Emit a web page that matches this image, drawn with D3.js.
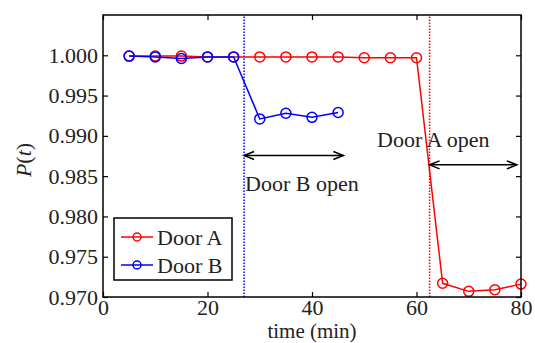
<!DOCTYPE html>
<html>
<head>
<meta charset="utf-8">
<script src="https://cdn.jsdelivr.net/npm/d3@7"></script>
<style>
  html, body { margin: 0; padding: 0; background: #fff; }
</style>
</head>
<body>
<svg id="chart" width="535" height="343"></svg>
<script>
// Probability of the system staying in state over time, for two door events
const timesA = [5, 10, 15, 20, 25, 30, 35, 40, 45, 50, 55, 60, 65, 70, 75, 80];
const doorA  = [0.9999, 0.9999, 0.9999, 0.9998, 0.9998, 0.9998, 0.9998, 0.9998,
                0.9998, 0.9997, 0.9997, 0.9997, 0.9717, 0.9707, 0.9709, 0.9716];
const timesB = [5, 10, 15, 20, 25, 30, 35, 40, 45];
const doorB  = [0.9999, 0.9998, 0.9996, 0.9998, 0.9998, 0.9921, 0.9928, 0.9923, 0.9929];

const xTicks = [0, 20, 40, 60, 80];
const yTicks = [0.970, 0.975, 0.980, 0.985, 0.990, 0.995, 1.000];

const doorBOpenAt = 27;      // door B opens
const doorAOpenAt = 62.5;    // door A opens
const arrowB = { from: 27, to: 46, level: 0.98756, label: "Door B open" };
const arrowA = { from: 62.5, to: 79.2, level: 0.9864, label: "Door A open" };

(function draw() {
  const FONT = "Liberation Serif";
  const svg = d3.select("#chart");
  const pLeft = 103, pRight = 521, pTop = 15, pBottom = 297;
  const x = d3.scaleLinear().domain([0, 80]).range([pLeft, pRight]);
  const y = d3.scaleLinear().domain([0.970, 1.005]).range([pBottom, pTop]);
  const fontSize = 22;

  function label(sel, size) {
    return sel.attr("font-family", FONT).attr("font-size", size || fontSize).attr("fill", "#222");
  }

  // Door open markers
  function vline(t, color) {
    svg.append("line")
      .attr("x1", x(t)).attr("x2", x(t))
      .attr("y1", y.range()[0]).attr("y2", y.range()[1])
      .attr("stroke", color).attr("stroke-width", 1.5)
      .attr("stroke-dasharray", "1.5,1.5");
  }
  vline(doorBOpenAt, "#0000ff");
  vline(doorAOpenAt, "#ff0000");

  // Series
  function series(xs, ys, color) {
    const pts = xs.map((t, i) => [t, ys[i]]);
    svg.append("path")
      .datum(pts)
      .attr("fill", "none").attr("stroke", color).attr("stroke-width", 1.5)
      .attr("d", d3.line().x(d => x(d[0])).y(d => y(d[1])));
    svg.append("g").selectAll("circle").data(pts).join("circle")
      .attr("cx", d => x(d[0])).attr("cy", d => y(d[1])).attr("r", 5)
      .attr("fill", "none").attr("stroke", color).attr("stroke-width", 1.5);
  }
  series(timesA, doorA, "#ff0000");
  series(timesB, doorB, "#0000ff");

  // Double-headed arrows with labels
  function arrow(a) {
    const x1 = x(a.from), x2 = x(a.to), yy = y(a.level);
    const g = svg.append("g").attr("stroke", "#000").attr("stroke-width", 1.5).attr("fill", "none");
    g.append("line").attr("x1", x1).attr("x2", x2).attr("y1", yy).attr("y2", yy);
    g.append("path").attr("d", `M${x1 + 10},${yy - 4} L${x1},${yy} L${x1 + 10},${yy + 4}`);
    g.append("path").attr("d", `M${x2 - 10},${yy - 4} L${x2},${yy} L${x2 - 10},${yy + 4}`);
  }
  arrow(arrowB);
  arrow(arrowA);
  label(svg.append("text").attr("x", x(arrowB.from) + 1).attr("y", 191)).text(arrowB.label);
  label(svg.append("text").attr("x", 377).attr("y", 147)).text(arrowA.label);

  // Axes: box with inward ticks on all four sides
  const tick = 5;
  const axB = svg.append("g").attr("transform", `translate(0,${pBottom})`)
    .call(d3.axisBottom(x).tickValues(xTicks).tickSize(-tick).tickPadding(2).tickFormat(d3.format("d")));
  const axT = svg.append("g").attr("transform", `translate(0,${pTop})`)
    .call(d3.axisTop(x).tickValues(xTicks).tickSize(-tick).tickFormat(""));
  const axL = svg.append("g").attr("transform", `translate(${pLeft},0)`)
    .call(d3.axisLeft(y).tickValues(yTicks).tickSize(-tick).tickPadding(5).tickFormat(d3.format(".3f")));
  const axR = svg.append("g").attr("transform", `translate(${pRight},0)`)
    .call(d3.axisRight(y).tickValues(yTicks).tickSize(-tick).tickFormat(""));
  [axB, axT, axL, axR].forEach(g => {
    g.attr("font-family", FONT).attr("font-size", fontSize);
    g.select(".domain").remove();
    g.selectAll(".tick line").attr("stroke", "#000").attr("stroke-width", 1.2);
    label(g.selectAll("text"));
  });
  axB.selectAll("text").attr("dy", "0.72em");
  svg.append("rect")
    .attr("x", pLeft).attr("y", pTop).attr("width", pRight - pLeft).attr("height", pBottom - pTop)
    .attr("fill", "none").attr("stroke", "#000").attr("stroke-width", 1.5);

  // Axis titles
  label(svg.append("text").attr("x", (pLeft + pRight) / 2).attr("y", 338)
    .attr("text-anchor", "middle"), 21).text("time (min)");
  const yl = label(svg.append("text")
    .attr("transform", "translate(31,160) rotate(-90)")
    .attr("text-anchor", "middle"));
  yl.append("tspan").attr("font-style", "italic").text("P");
  yl.append("tspan").text("(");
  yl.append("tspan").attr("font-style", "italic").text("t");
  yl.append("tspan").text(")");

  // Legend
  const legend = svg.append("g");
  legend.append("rect").attr("x", 114).attr("y", 218).attr("width", 118).attr("height", 62)
    .attr("fill", "#fff").attr("stroke", "#000").attr("stroke-width", 1.5);
  [["Door A", "#ff0000", 237], ["Door B", "#0000ff", 265]].forEach(([name, color, cy]) => {
    legend.append("line").attr("x1", 121).attr("x2", 153).attr("y1", cy).attr("y2", cy)
      .attr("stroke", color).attr("stroke-width", 1.5);
    legend.append("circle").attr("cx", 137).attr("cy", cy).attr("r", 4)
      .attr("fill", "none").attr("stroke", color).attr("stroke-width", 1.5);
    label(legend.append("text").attr("x", 157).attr("y", cy).attr("dy", "0.35em")).text(name);
  });
})();
</script>
</body>
</html>
